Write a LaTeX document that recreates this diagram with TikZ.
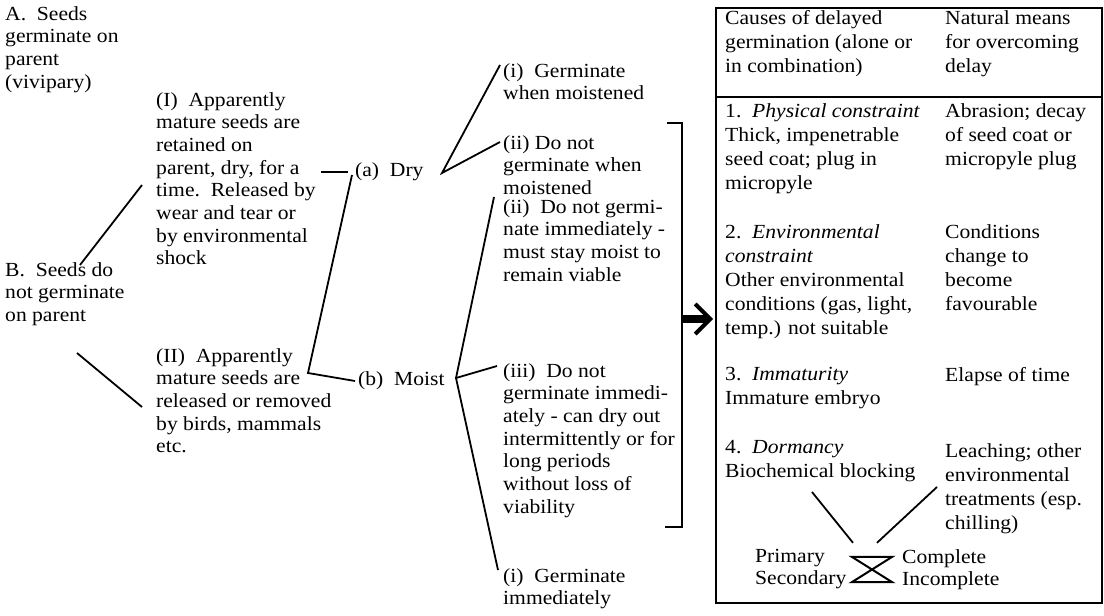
\documentclass[tikz,border=0pt]{standalone}
\usepackage{fontspec}
\setmainfont{Liberation Serif}[FakeStretch=1.08]
\usetikzlibrary{arrows.meta}
\newcommand{\leftfont}{\fontsize{20}{22.7}\selectfont}
\newcommand{\cellfont}{\fontsize{20}{24}\selectfont}
\newcommand{\pairfont}{\fontsize{20}{22}\selectfont}

\begin{document}
\begin{tikzpicture}[x=1pt, y=-1pt,
  txt/.style={anchor=north west, inner sep=0pt, align=left, font=\leftfont},
  cell/.style={txt, font=\cellfont},
  pair/.style={txt, font=\pairfont},
  conn/.style={line width=1.8pt, line join=miter},
  bigarrow/.style={line width=7.5pt, shorten >=2pt,
                   -{Straight Barb[length=15pt, width=30pt, line width=4pt]}}]

\useasboundingbox[fill=white] (0,0) rectangle (1104,616);

\node[txt] (vivi) at (5,6) {A.~~Seeds\\germinate on\\parent\\(vivipary)};
\node[txt] (nogerm) at (5,262) {B.~~Seeds do\\not germinate\\on parent};
\node[txt] (retain) at (156,92)
  {(I)~~Apparently\\mature seeds are\\retained on\\parent, dry, for a\\time.~~Released by\\wear and tear or\\by environmental\\shock};
\node[txt] (release) at (156,348)
  {(II)~~Apparently\\mature seeds are\\released or removed\\by birds, mammals\\etc.};
\node[txt] (dry) at (355,162) {(a)~~Dry};
\node[txt] (moist) at (358,371) {(b)~~Moist};
\node[txt] (dryi) at (503,63) {(i)~~Germinate\\when moistened};
\node[txt] (dryii) at (503,135) {(ii) Do not\\germinate when\\moistened};
\node[txt] (moistii) at (503,199)
  {(ii)~~Do not germi-\\nate immediately -\\must stay moist to\\remain viable};
\node[txt] (moistiii) at (503,363)
  {(iii)~~Do not\\germinate immedi-\\ately - can dry out\\intermittently or for\\long periods\\without loss of\\viability};
\node[txt] (moisti) at (503,568) {(i)~~Germinate\\immediately};

\draw[conn] ([shift={(75,3)}]nogerm.north west) -- ([shift={(-14,93)}]retain.north west);
\draw[conn] ([shift={(72,91)}]nogerm.north west) -- ([shift={(-14,59)}]release.north west);
\draw[conn] ([shift={(165,80)}]retain.north west) -- ([shift={(-7,10)}]dry.north west);
\draw[conn] ([shift={(-3,13)}]dry.north west) -- ([shift={(152,25)}]release.north west)
  -- ([shift={(-3,10)}]moist.north west);
\draw[conn] ([shift={(-3,2)}]dryi.north west) -- ([shift={(87,11)}]dry.north west)
  -- ([shift={(-3,7)}]dryii.north west);
\draw[conn] ([shift={(-9,-2)}]moistii.north west) -- ([shift={(98,7)}]moist.north west)
  -- ([shift={(-5,2)}]moisti.north west);
\draw[conn] ([shift={(98,7)}]moist.north west) -- ([shift={(-6,3)}]moistiii.north west);

\coordinate (brtop) at (682,123);
\coordinate (brbot) at (682,527);
\coordinate (brmid) at (682,319);
\draw[conn] ([xshift=-15pt]brtop) -- (brtop) -- (brbot) -- ([xshift=-17pt]brbot);

\node[draw, line width=2.2pt, anchor=north west, inner sep=0pt,
      minimum width=386pt, minimum height=595pt] (tbl) at (715,7) {};
\draw[line width=2.2pt] ([yshift=-90pt]tbl.north west) -- ([yshift=-90pt]tbl.north east);
\draw[bigarrow] (brmid) -- (brmid -| tbl.west);

\node[cell] (causes) at (725,10) {Causes of delayed\\germination (alone or\\in combination)};
\node[cell] (means) at (945,10) {Natural means\\for overcoming\\delay};
\node[cell] (phys) at (725,103)
  {1.~~\textit{Physical constraint}\\Thick, impenetrable\\seed coat; plug in\\micropyle};
\node[cell] (abras) at (945,103) {Abrasion; decay\\of seed coat or\\micropyle plug};
\node[cell] (envi) at (725,224)
  {2.~~\textit{Environmental}\\\textit{constraint}\\Other environmental\\conditions (gas, light,\\temp.) not suitable};
\node[cell] (cond) at (945,224) {Conditions\\change to\\become\\favourable};
\node[cell] (immat) at (725,367) {3.~~\textit{Immaturity}\\Immature embryo};
\node[cell] (elapse) at (945,367) {Elapse of time};
\node[cell] (dorm) at (725,440) {4.~~\textit{Dormancy}\\Biochemical blocking};
\node[cell] (leach) at (945,443) {Leaching; other\\environmental\\treatments (esp.\\chilling)};
\node[pair] (prim) at (755,549) {Primary\\Secondary};
\node[pair] (compl) at (902,549) {Complete\\Incomplete};
\node[minimum width=40pt, minimum height=25pt, inner sep=0pt] (hg) at (872,569.5) {};
\draw[line width=2pt] (hg.north west) -- (hg.north east) -- (hg.south west)
  -- (hg.south east) -- cycle;

\draw[conn] ([shift={(87,52)}]dorm.north west) -- ([shift={(-19,-14)}]hg.north);
\draw[conn] ([shift={(-8,44)}]leach.north west) -- ([shift={(5,-14)}]hg.north);
\end{tikzpicture}
\end{document}
